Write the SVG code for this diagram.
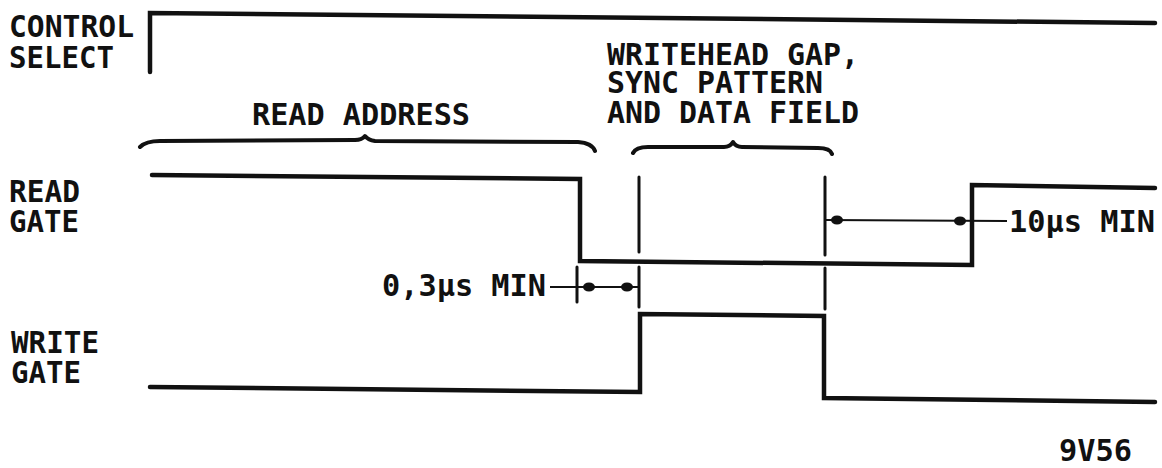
<svg xmlns="http://www.w3.org/2000/svg" width="1162" height="468" viewBox="0 0 1162 468">
<style>
text{font-family:"DejaVu Sans Mono","Liberation Mono",monospace;font-weight:bold;font-size:30px;fill:#111}
.sig{fill:none;stroke:#111;stroke-width:4.5;stroke-linejoin:miter;stroke-linecap:round}
.mk{fill:none;stroke:#111;stroke-width:3;stroke-linecap:round}
.dim{fill:none;stroke:#111;stroke-width:2.2}
.br{fill:none;stroke:#111;stroke-width:4;stroke-linecap:round;stroke-linejoin:round}
.dot{fill:#111}
</style>
<rect width="1162" height="468" fill="#fff"/>
<g id="label-control-select">
<text x="9" y="37" textLength="125" lengthAdjust="spacingAndGlyphs">CONTROL</text>
<text x="9" y="68" textLength="105" lengthAdjust="spacingAndGlyphs">SELECT</text>
</g>
<g id="label-read-gate">
<text x="9" y="202" textLength="71" lengthAdjust="spacingAndGlyphs">READ</text>
<text x="9" y="232" textLength="70" lengthAdjust="spacingAndGlyphs">GATE</text>
</g>
<g id="label-write-gate">
<text x="11" y="353" textLength="88" lengthAdjust="spacingAndGlyphs">WRITE</text>
<text x="11" y="383" textLength="70" lengthAdjust="spacingAndGlyphs">GATE</text>
</g>
<g id="label-read-address">
<text x="252" y="125" textLength="218" lengthAdjust="spacingAndGlyphs">READ ADDRESS</text>
<path class="br" d="M140,147 Q146,141 160,141 L355,140 Q362,140 365,136 Q368,140 375,141 L578,142 Q592,143 595,151"/>
</g>
<g id="label-writehead">
<text x="607" y="65" textLength="252" lengthAdjust="spacingAndGlyphs">WRITEHEAD GAP,</text>
<text x="607" y="93" textLength="216" lengthAdjust="spacingAndGlyphs">SYNC PATTERN</text>
<text x="607" y="123" textLength="252" lengthAdjust="spacingAndGlyphs">AND DATA FIELD</text>
<path class="br" d="M633,153 Q636,147 648,147 L724,147 Q730,147 733,142 Q736,147 742,147 L818,148 Q830,148 832,154"/>
</g>
<g id="signal-control-select">
<path class="sig" d="M150,72 L150,13 L1155,23"/>
</g>
<g id="signal-read-gate">
<path class="sig" d="M152,175 L580,179 L580,261 L972,265 L972,185 L1155,188"/>
</g>
<g id="signal-write-gate">
<path class="sig" d="M150,387 L640,392 L640,314 L824,316 L824,398 L1155,402"/>
</g>
<g id="connectors">
<path class="mk" d="M639,177 L639,252 M639,267 L639,307 M825,177 L825,255 M825,268 L825,309 M577,267 L577,302"/>
<path class="dim" d="M550,287 L638,287 M825,220 L1007,221"/>
<ellipse class="dot" cx="589" cy="287" rx="6" ry="4.5"/>
<ellipse class="dot" cx="627" cy="287" rx="6" ry="4.5"/>
<ellipse class="dot" cx="837" cy="220" rx="6" ry="4.5"/>
<ellipse class="dot" cx="960" cy="221" rx="6" ry="4.5"/>
</g>
<g id="label-03us">
<text x="382" y="296" textLength="164" lengthAdjust="spacingAndGlyphs">0,3μs MIN</text>
</g>
<g id="label-10us">
<text x="1009" y="232" textLength="146" lengthAdjust="spacingAndGlyphs">10μs MIN</text>
</g>
<g id="label-id">
<text x="1059" y="461" textLength="73" lengthAdjust="spacingAndGlyphs">9V56</text>
</g>
</svg>
